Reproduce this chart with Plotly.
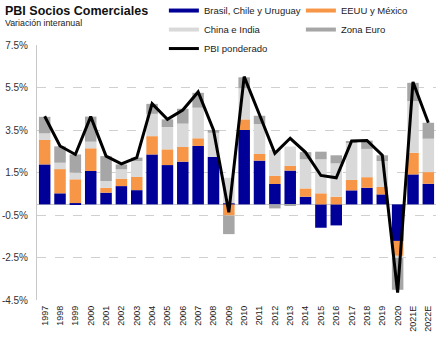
import plotly.graph_objects as go

years = [str(y) for y in range(1997, 2021)] + ["2021E", "2022E"]

brasil = [1.88, 0.52, 0.06, 1.57, 0.55, 0.86, 0.67, 2.35, 1.85, 2.01, 2.75, 2.23, 0.05,
          3.50, 2.06, 0.96, 1.59, 0.36, -1.10, -0.99, 0.66, 0.78, 0.47, -1.72, 1.41, 0.97]
eeuu = [1.15, 1.14, 1.12, 1.07, 0.23, 0.35, 0.62, 0.86, 0.74, 0.69, 0.36, 0.00, -0.52,
        0.50, 0.31, 0.38, 0.22, 0.39, 0.52, 0.36, 0.49, 0.50, 0.35, -0.70, 1.02, 0.55]
china = [0.31, 0.30, 0.31, 0.31, 0.32, 0.44, 0.75, 1.05, 1.05, 1.10, 1.44, 1.14, 1.20,
         1.46, 1.41, 1.22, 0.91, 1.37, 1.60, 1.57, 1.75, 1.33, 1.22, -0.10, 2.43, 1.57]
euro = [0.78, 0.77, 0.86, 1.18, 1.17, 0.23, 0.16, 0.47, 0.36, 0.70, 0.70, 0.13, -0.88,
        0.52, 0.39, -0.19, -0.03, 0.34, 0.36, 0.38, 0.08, 0.39, 0.27, -1.50, 0.86, 0.75]
pbi = [4.15, 2.75, 2.35, 4.13, 2.27, 1.91, 2.20, 4.74, 4.00, 4.44, 5.29, 3.50, -0.37,
       6.01, 4.22, 2.40, 3.11, 2.45, 1.36, 1.25, 2.98, 3.01, 2.31, -4.15, 5.76, 3.84]

names = ["Brasil, Chile y Uruguay", "EEUU y México", "China e India", "Zona Euro"]
colors = ["#000099", "#F79646", "#D9D9D9", "#A6A6A6"]
series = [brasil, eeuu, china, euro]

tick_vals = [7.5, 5.5, 3.5, 1.5, -0.5, -2.5, -4.5]
tick_text = ["7.5%", "5.5%", "3.5%", "1.5%", "-0.5%", "-2.5%", "-4.5%"]

FONT = "Liberation Sans"

fig = go.Figure()
for name, col, vals in zip(names, colors, series):
    fig.add_trace(go.Bar(x=years, y=vals, name=name, marker=dict(color=col, line=dict(width=0)),
                         showlegend=False))
# legend entries drawn as line swatches
for name, col in zip(names, colors):
    fig.add_trace(go.Scatter(x=[None], y=[None], mode="lines", name=name,
                             line=dict(color=col, width=4), showlegend=True))
fig.add_trace(go.Scatter(x=years, y=pbi, mode="lines", name="PBI ponderado",
                         line=dict(color="black", width=3)))

fig.update_layout(
    width=443, height=340,
    margin=dict(l=37, r=7, t=45, b=40, autoexpand=False),
    barmode="relative", bargap=0.25,
    plot_bgcolor="white", paper_bgcolor="white",
    font=dict(family=FONT, size=10, color="#333333"),
    legend=dict(orientation="h", x=0.318, xanchor="left", y=1.192, yanchor="top",
                entrywidth=92, itemwidth=30, font=dict(size=9.5, color="#222222"),
                bgcolor="rgba(0,0,0,0)", traceorder="normal"),
    annotations=[
        dict(text="<b>PBI Socios Comerciales</b>", xref="paper", yref="paper",
             x=-0.0852, y=1.133, xanchor="left", yanchor="middle", showarrow=False,
             font=dict(size=12.5, color="#111111", family=FONT)),
        dict(text="Variación interanual", xref="paper", yref="paper",
             x=-0.0852, y=1.086, xanchor="left", yanchor="middle", showarrow=False,
             font=dict(size=8.8, color="#222222", family=FONT)),
    ],
)
fig.update_yaxes(range=[-4.5, 7.5], tickvals=tick_vals, ticktext=tick_text,
                 showgrid=True, gridcolor="#D0D0D0", griddash="dash", gridwidth=1,
                 zeroline=True, zerolinecolor="#C8C8C8", zerolinewidth=1,
                 showline=True, linecolor="#C8C8C8", linewidth=1,
                 ticks="", ticklabelstandoff=6, tickfont=dict(size=10, color="#333333"))
fig.update_xaxes(type="category", tickangle=-90, showgrid=False, showline=False,
                 ticks="", ticklabelstandoff=3, tickfont=dict(size=9, color="#222222"))

fig.write_html("out.html")
